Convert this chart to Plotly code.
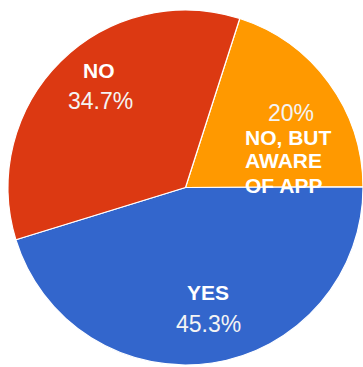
import plotly.graph_objects as go

categories = ["NO, BUT AWARE OF APP", "YES", "NO"]
label_lines = [["NO, BUT", "AWARE", "OF APP"], ["YES"], ["NO"]]
values = [20, 45.3, 34.7]
colors = ["#FF9900", "#3366CC", "#DC3912"]

W, H = 363, 367

fig = go.Figure(go.Pie(
    labels=categories,
    values=values,
    sort=False,
    direction="clockwise",
    rotation=17.8,
    marker=dict(colors=colors, line=dict(color="white", width=1.2)),
    textinfo="none",
    hoverinfo="label+percent",
    showlegend=False,
    domain=dict(x=[8 / W, 1], y=[0, 1 - 8 / H]),
))

def px(x, y):
    return x / W, 1 - y / H

# first-line label position (pixels), alignment, line step; percent position
label_pos = [(243, 137, "left"), (208, 292, "center"), (99, 70, "center")]
line_step = 24
pct_pos = [(291, 113), (208, 324), (101, 101)]

ann = []
for i in range(3):
    lx, ly, al = label_pos[i]
    for j, line in enumerate(label_lines[i]):
        x, y = px(lx, ly + j * line_step)
        ann.append(dict(x=x, y=y, xref="paper", yref="paper", text="<b>" + line + "</b>",
                        showarrow=False, xanchor=al, yanchor="middle", align=al,
                        font=dict(family="Liberation Sans, Arial", size=21, color="white")))
    x, y = px(*pct_pos[i])
    ann.append(dict(x=x, y=y, xref="paper", yref="paper", text=f"{values[i]:g}%",
                    showarrow=False, xanchor="center", yanchor="middle",
                    font=dict(family="Liberation Sans, Arial", size=23, color="#f4f4f4")))

fig.update_layout(
    width=W, height=H,
    margin=dict(l=0, r=0, t=0, b=0),
    paper_bgcolor="white",
    annotations=ann,
)

fig.write_html("out.html")
